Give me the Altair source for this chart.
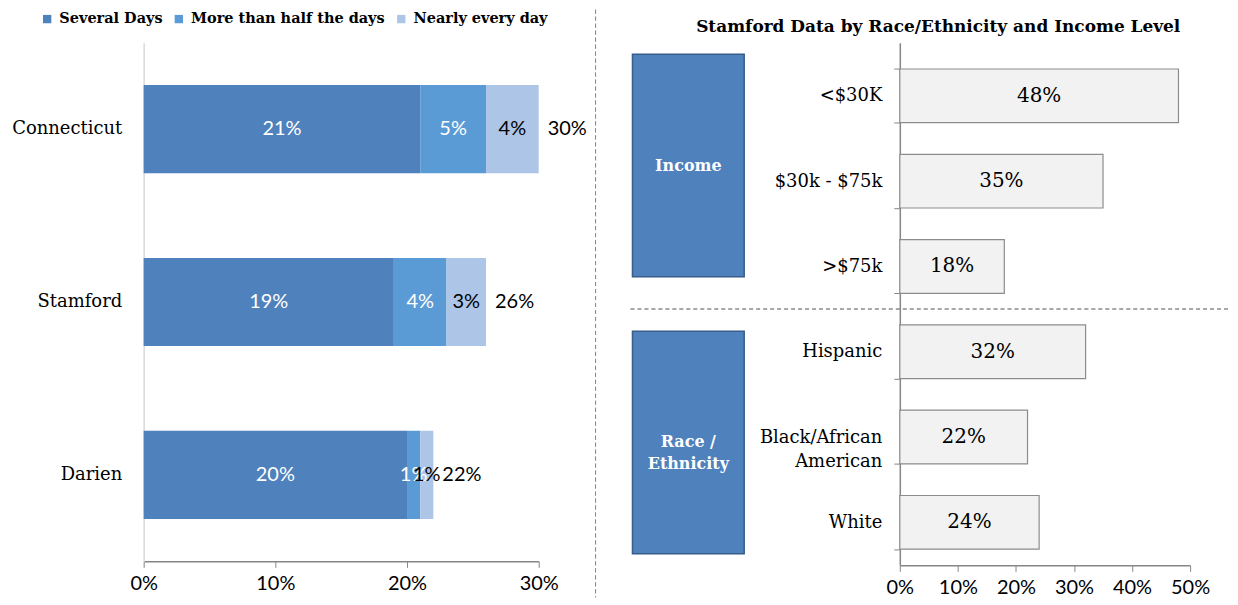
import altair as alt
import pandas as pd

# ---------------- data ----------------
places = ["Connecticut", "Stamford", "Darien"]
freq_cats = ["Several Days", "More than half the days", "Nearly every day"]
several = [21, 19, 20]
more_half = [5, 4, 1]
nearly = [4, 3, 1]
totals = [30, 26, 22]

right_cats = ["<$30K", "$30k - $75k", ">$75k", "Hispanic", "Black/African American", "White"]
right_vals = [48, 35, 18, 32, 22, 24]
right_groups = ["Income", "Race / Ethnicity"]

left_ticks = [0, 10, 20, 30]
right_ticks = [0, 10, 20, 30, 40, 50]

SERIF = "DejaVu Serif"
SANS = "Lato"
colors = ["#4F81BD", "#5B9BD5", "#ADC5E7"]

rows = []
for i, p in enumerate(places):
    for j, (c, arr) in enumerate(zip(freq_cats, [several, more_half, nearly])):
        rows.append({"place": p, "cat": c, "value": arr[i], "order": j})
left_df = pd.DataFrame(rows)
tot_df = pd.DataFrame({"place": places, "total": totals})
right_df = pd.DataFrame({"cat": right_cats, "val": right_vals})
grp_df = pd.DataFrame({"group": right_groups})

LW, LH = 396, 520
RW, RH = 291, 524
BW = 174

# ---------------- left chart ----------------
ybase = alt.Y(
    "place:N", sort=places,
    scale=alt.Scale(paddingInner=0.49, paddingOuter=0.245),
    axis=alt.Axis(title=None, ticks=False, domainColor="#D9D9D9", domainWidth=1.5,
                  labelFont=SERIF, labelFontSize=18, labelColor="black", labelPadding=22),
)
xleft = alt.X(
    "v0:Q", scale=alt.Scale(domain=[0, 30], nice=False),
    axis=alt.Axis(values=left_ticks, labelExpr="datum.value + '%'", title=None, grid=False,
                  labelFlush=False,
                  domainColor="#868686", tickColor="#868686", tickSize=6, domainWidth=1.5,
                  labelFont=SANS, labelFontSize=20, labelColor="black", labelPadding=6),
)

stacked = alt.Chart(left_df).transform_stack(
    stack="value", groupby=["place"], as_=["v0", "v1"], sort=[alt.SortField("order")]
).transform_calculate(mid="(datum.v0 + datum.v1) / 2", lab="datum.value + '%'")

bars = stacked.mark_bar().encode(
    y=ybase, x=xleft, x2="v1:Q",
    color=alt.Color("cat:N", sort=freq_cats,
                    scale=alt.Scale(domain=freq_cats, range=colors),
                    legend=alt.Legend(title=None, orient="none", direction="horizontal",
                                      legendX=-104, legendY=-31, symbolType="square",
                                      symbolSize=70, symbolStrokeWidth=0,
                                      labelFont=SERIF, labelFontWeight="bold",
                                      labelFontSize=14.5, labelColor="black", labelLimit=400,
                                      columnPadding=9, labelOffset=5)),
)
txt_white = stacked.transform_filter(alt.datum.cat != "Nearly every day").mark_text(
    font=SANS, fontSize=20, color="white").encode(
    y=alt.Y("place:N", sort=places), x=alt.X("mid:Q"), text="lab:N")
txt_black = stacked.transform_filter(alt.datum.cat == "Nearly every day").mark_text(
    font=SANS, fontSize=20, color="black").encode(
    y=alt.Y("place:N", sort=places), x=alt.X("mid:Q"), text="lab:N")
txt_tot = alt.Chart(tot_df).transform_calculate(lab="datum.total + '%'").mark_text(
    font=SANS, fontSize=20, color="black", align="left", dx=9).encode(
    y=alt.Y("place:N", sort=places), x=alt.X("total:Q"), text="lab:N")

left = alt.layer(bars, txt_white, txt_black, txt_tot).properties(width=LW, height=LH)

# ---------------- box panel ----------------
gy = alt.Y("group:N", sort=right_groups,
           scale=alt.Scale(paddingInner=0.196, paddingOuter=0.042), axis=None)
boxes = alt.Chart(grp_df).mark_bar(color="#4F81BD", stroke="#385D8A", strokeWidth=1.5).encode(
    y=gy, x=alt.value(0), x2=alt.value(112))
box_txt = alt.Chart(grp_df).transform_calculate(
    lab="replace(datum.group, ' / ', ' /\\n')").mark_text(
    font=SERIF, fontWeight="bold", fontSize=16, color="white", lineBreak="\n",
    lineHeight=22).encode(y=gy, x=alt.value(56), text="lab:N")
vsep = alt.Chart(grp_df).mark_rule(color="#8C8C8C", strokeDash=[4, 3], strokeWidth=1).encode(
    x=alt.value(-37), y=alt.value(-33), y2=alt.value(556))
hsep = alt.Chart(grp_df).mark_rule(color="#8C8C8C", strokeDash=[4, 3], strokeWidth=1).encode(
    x=alt.value(-2), x2=alt.value(598), y=alt.value(267))
mid = alt.layer(boxes, box_txt, vsep, hsep).properties(width=BW, height=RH)

# ---------------- right chart ----------------
ry = alt.Y("cat:N", sort=right_cats,
           scale=alt.Scale(paddingInner=0.37, paddingOuter=0.249, align=0.62),
           axis=alt.Axis(title=None, tickBand="extent", tickColor="#868686", tickSize=6,
                         domainColor="#868686", domainWidth=1.5,
                         labelFont=SERIF, labelFontSize=18, labelColor="black",
                         labelPadding=12, labelLineHeight=25,
                         labelExpr="datum.value == 'Black/African American' ? ['Black/African', 'American'] : datum.label"))
rx = alt.X("val:Q", scale=alt.Scale(domain=[0, 50], nice=False),
           axis=alt.Axis(values=right_ticks, labelExpr="datum.value + '%'", title=None, grid=False,
                         labelFlush=False,
                         domainColor="#868686", tickColor="#868686", tickSize=6, domainWidth=1.5,
                         labelFont=SANS, labelFontSize=20, labelColor="black", labelPadding=6))
rbars = alt.Chart(right_df).mark_bar(color="#F2F2F2", stroke="#8C8C8C", strokeWidth=1.2).encode(
    y=ry, x=rx)
rtxt = alt.Chart(right_df).transform_calculate(
    half="datum.val / 2", lab="datum.val + '%'").mark_text(
    font=SERIF, fontSize=20, color="black").encode(
    y=alt.Y("cat:N", sort=right_cats), x=alt.X("half:Q"), text="lab:N")
right = alt.layer(rbars, rtxt).properties(
    width=RW, height=RH,
    title=alt.TitleParams("Stamford Data by Race/Ethnicity  and  Income  Level",
                          font=SERIF, fontSize=17, fontWeight="bold", color="black",
                          anchor="middle", dx=-107, dy=10, offset=8))

chart = alt.hconcat(left, mid, right, spacing=94, bounds="flush").properties(
    padding={"left": 3, "top": 0, "right": 0, "bottom": 0}
).configure_view(strokeWidth=0).configure_concat(spacing=94)

chart.save("out.html", embed_options={"renderer": "svg", "actions": False})
